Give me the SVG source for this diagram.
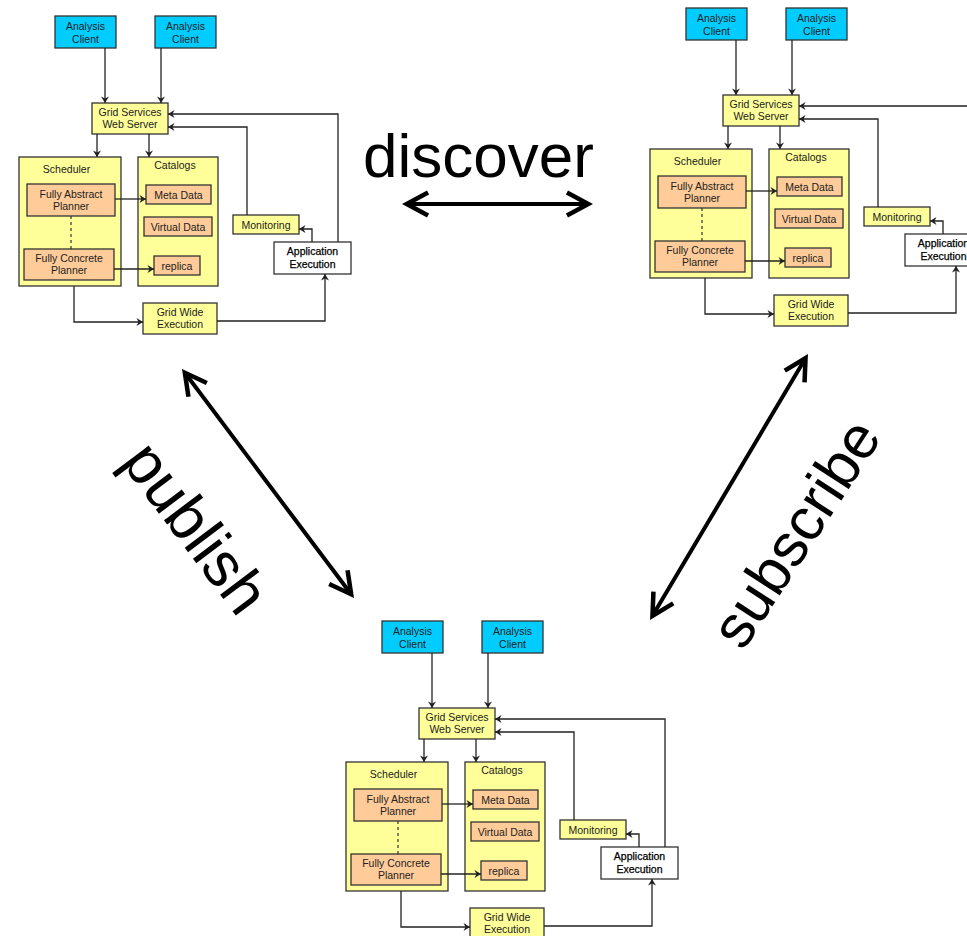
<svg xmlns="http://www.w3.org/2000/svg" width="967" height="936" viewBox="0 0 967 936">
<style>
  .client{fill:#00CCFF;stroke:#333;stroke-width:1.3}
  .yel{fill:#FFFF99;stroke:#333;stroke-width:1.3}
  .org{fill:#FFCC99;stroke:#333;stroke-width:1.3}
  .white{fill:#FFFFFF;stroke:#333;stroke-width:1.3}
  .t{font-family:"Liberation Sans",Arial,sans-serif;font-size:10.5px;fill:#222;text-anchor:middle}
  .dark{fill:#000;stroke:#000;stroke-width:0.25}
  .c{fill:none;stroke:#222;stroke-width:1.3;marker-end:url(#sa)}
  .dash{fill:none;stroke:#333;stroke-width:1.2;stroke-dasharray:3,3}
  .big{fill:none;stroke:#000;stroke-width:4;marker-start:url(#ba);marker-end:url(#ba)}
  .bt{font-family:"Liberation Sans",Arial,sans-serif;font-size:62px;fill:#000}
</style>
<defs>
  <marker id="sa" markerUnits="userSpaceOnUse" viewBox="-8 -5 9 10" refX="0" refY="0" markerWidth="9" markerHeight="10" orient="auto">
    <path d="M0,0 L-6.5,-4 L-4.5,0 L-6.5,4 Z" fill="#222"/>
  </marker>
  <marker id="ba" markerUnits="userSpaceOnUse" viewBox="-24 -16 32 32" refX="0" refY="0" markerWidth="32" markerHeight="32" orient="auto-start-reverse">
    <path d="M6,0 L-19,-13.5 L-21.1,-9.5 L-3.5,0 L-21.1,9.5 L-19,13.5 Z" fill="#000"/>
  </marker>
</defs>

<!-- Top-left cluster -->
<g id="cluster-tl">
  <g id="tl-client1"><rect class="client" x="55" y="16" width="61" height="32"/><text class="t" x="85.5" y="30">Analysis</text><text class="t" x="85.5" y="42.5">Client</text></g>
  <g id="tl-client2"><rect class="client" x="155" y="16" width="61" height="32"/><text class="t" x="185.5" y="30">Analysis</text><text class="t" x="185.5" y="42.5">Client</text></g>
  <g id="tl-gsw"><rect class="yel" x="92" y="103" width="76" height="31"/><text class="t" x="130" y="115.5">Grid Services</text><text class="t" x="130" y="128">Web Server</text></g>
  <g id="tl-scheduler"><rect class="yel" x="19" y="157" width="102" height="129"/><text class="t" x="66.5" y="173">Scheduler</text></g>
  <g id="tl-catalogs"><rect class="yel" x="138" y="157" width="80" height="129"/><text class="t" x="175" y="168.5">Catalogs</text></g>
  <g id="tl-fap"><rect class="org" x="27" y="184" width="88" height="32"/><text class="t" x="71" y="197.5">Fully Abstract</text><text class="t" x="71" y="210">Planner</text></g>
  <g id="tl-fcp"><rect class="org" x="24" y="249" width="90" height="31"/><text class="t" x="69" y="261.5">Fully Concrete</text><text class="t" x="69" y="274">Planner</text></g>
  <g id="tl-meta"><rect class="org" x="146" y="185" width="65" height="19"/><text class="t" x="178.5" y="198.5">Meta Data</text></g>
  <g id="tl-virtual"><rect class="org" x="144" y="217" width="68" height="19"/><text class="t" x="178" y="230.5">Virtual Data</text></g>
  <g id="tl-replica"><rect class="org" x="154" y="256" width="46" height="19"/><text class="t" x="177" y="269.5">replica</text></g>
  <g id="tl-monitoring"><rect class="yel" x="233" y="215" width="66" height="19"/><text class="t" x="266" y="228.5">Monitoring</text></g>
  <g id="tl-appexec"><rect class="white" x="274" y="242" width="77" height="32"/><text class="t dark" x="312.5" y="255">Application</text><text class="t dark" x="312.5" y="267.5">Execution</text></g>
  <g id="tl-gridwide"><rect class="yel" x="143" y="303" width="74" height="31"/><text class="t" x="180" y="315.5">Grid Wide</text><text class="t" x="180" y="328">Execution</text></g>
</g>

<!-- Top-right cluster -->
<g id="cluster-tr" transform="translate(631,-8)">
  <g id="tr-client1"><rect class="client" x="55" y="16" width="61" height="32"/><text class="t" x="85.5" y="30">Analysis</text><text class="t" x="85.5" y="42.5">Client</text></g>
  <g id="tr-client2"><rect class="client" x="155" y="16" width="61" height="32"/><text class="t" x="185.5" y="30">Analysis</text><text class="t" x="185.5" y="42.5">Client</text></g>
  <g id="tr-gsw"><rect class="yel" x="92" y="103" width="76" height="31"/><text class="t" x="130" y="115.5">Grid Services</text><text class="t" x="130" y="128">Web Server</text></g>
  <g id="tr-scheduler"><rect class="yel" x="19" y="157" width="102" height="129"/><text class="t" x="66.5" y="173">Scheduler</text></g>
  <g id="tr-catalogs"><rect class="yel" x="138" y="157" width="80" height="129"/><text class="t" x="175" y="168.5">Catalogs</text></g>
  <g id="tr-fap"><rect class="org" x="27" y="184" width="88" height="32"/><text class="t" x="71" y="197.5">Fully Abstract</text><text class="t" x="71" y="210">Planner</text></g>
  <g id="tr-fcp"><rect class="org" x="24" y="249" width="90" height="31"/><text class="t" x="69" y="261.5">Fully Concrete</text><text class="t" x="69" y="274">Planner</text></g>
  <g id="tr-meta"><rect class="org" x="146" y="185" width="65" height="19"/><text class="t" x="178.5" y="198.5">Meta Data</text></g>
  <g id="tr-virtual"><rect class="org" x="144" y="217" width="68" height="19"/><text class="t" x="178" y="230.5">Virtual Data</text></g>
  <g id="tr-replica"><rect class="org" x="154" y="256" width="46" height="19"/><text class="t" x="177" y="269.5">replica</text></g>
  <g id="tr-monitoring"><rect class="yel" x="233" y="215" width="66" height="19"/><text class="t" x="266" y="228.5">Monitoring</text></g>
  <g id="tr-appexec"><rect class="white" x="274" y="242" width="77" height="32"/><text class="t dark" x="312.5" y="255">Application</text><text class="t dark" x="312.5" y="267.5">Execution</text></g>
  <g id="tr-gridwide"><rect class="yel" x="143" y="303" width="74" height="31"/><text class="t" x="180" y="315.5">Grid Wide</text><text class="t" x="180" y="328">Execution</text></g>
</g>

<!-- Bottom cluster -->
<g id="cluster-bottom" transform="translate(327,605)">
  <g id="bt-client1"><rect class="client" x="55" y="16" width="61" height="32"/><text class="t" x="85.5" y="30">Analysis</text><text class="t" x="85.5" y="42.5">Client</text></g>
  <g id="bt-client2"><rect class="client" x="155" y="16" width="61" height="32"/><text class="t" x="185.5" y="30">Analysis</text><text class="t" x="185.5" y="42.5">Client</text></g>
  <g id="bt-gsw"><rect class="yel" x="92" y="103" width="76" height="31"/><text class="t" x="130" y="115.5">Grid Services</text><text class="t" x="130" y="128">Web Server</text></g>
  <g id="bt-scheduler"><rect class="yel" x="19" y="157" width="102" height="129"/><text class="t" x="66.5" y="173">Scheduler</text></g>
  <g id="bt-catalogs"><rect class="yel" x="138" y="157" width="80" height="129"/><text class="t" x="175" y="168.5">Catalogs</text></g>
  <g id="bt-fap"><rect class="org" x="27" y="184" width="88" height="32"/><text class="t" x="71" y="197.5">Fully Abstract</text><text class="t" x="71" y="210">Planner</text></g>
  <g id="bt-fcp"><rect class="org" x="24" y="249" width="90" height="31"/><text class="t" x="69" y="261.5">Fully Concrete</text><text class="t" x="69" y="274">Planner</text></g>
  <g id="bt-meta"><rect class="org" x="146" y="185" width="65" height="19"/><text class="t" x="178.5" y="198.5">Meta Data</text></g>
  <g id="bt-virtual"><rect class="org" x="144" y="217" width="68" height="19"/><text class="t" x="178" y="230.5">Virtual Data</text></g>
  <g id="bt-replica"><rect class="org" x="154" y="256" width="46" height="19"/><text class="t" x="177" y="269.5">replica</text></g>
  <g id="bt-monitoring"><rect class="yel" x="233" y="215" width="66" height="19"/><text class="t" x="266" y="228.5">Monitoring</text></g>
  <g id="bt-appexec"><rect class="white" x="274" y="242" width="77" height="32"/><text class="t dark" x="312.5" y="255">Application</text><text class="t dark" x="312.5" y="267.5">Execution</text></g>
  <g id="bt-gridwide"><rect class="yel" x="143" y="303" width="74" height="31"/><text class="t" x="180" y="315.5">Grid Wide</text><text class="t" x="180" y="328">Execution</text></g>
</g>

<!-- Connectors -->
<g id="connectors">
  <g id="tl-connectors">
    <path class="c" d="M105,48 V103"/>
    <path class="c" d="M161,48 V103"/>
    <path class="c" d="M97,134 V157"/>
    <path class="c" d="M149,134 V157"/>
    <path class="c" d="M115,199 H146"/>
    <path class="c" d="M114,269 H154"/>
    <path class="c" d="M74,286 V322 H143"/>
    <path class="c" d="M217,321 H325 V274"/>
    <path class="c" d="M247,215 V127 H168"/>
    <path class="c" d="M312,242 V229 H299"/>
    <path class="c" d="M338,242 V114 H168"/>
    <path class="dash" d="M71,216 V249"/>
  </g>
  <g id="tr-connectors" transform="translate(631,-8)">
    <path class="c" d="M105,48 V103"/>
    <path class="c" d="M161,48 V103"/>
    <path class="c" d="M97,134 V157"/>
    <path class="c" d="M149,134 V157"/>
    <path class="c" d="M115,199 H146"/>
    <path class="c" d="M114,269 H154"/>
    <path class="c" d="M74,286 V322 H143"/>
    <path class="c" d="M217,321 H325 V274"/>
    <path class="c" d="M247,215 V127 H168"/>
    <path class="c" d="M312,242 V229 H299"/>
    <path class="c" d="M338,242 V114 H168"/>
    <path class="dash" d="M71,216 V249"/>
  </g>
  <g id="bt-connectors" transform="translate(327,605)">
    <path class="c" d="M105,48 V103"/>
    <path class="c" d="M161,48 V103"/>
    <path class="c" d="M97,134 V157"/>
    <path class="c" d="M149,134 V157"/>
    <path class="c" d="M115,199 H146"/>
    <path class="c" d="M114,269 H154"/>
    <path class="c" d="M74,286 V322 H143"/>
    <path class="c" d="M217,321 H325 V274"/>
    <path class="c" d="M247,215 V127 H168"/>
    <path class="c" d="M312,242 V229 H299"/>
    <path class="c" d="M338,242 V114 H168"/>
    <path class="dash" d="M71,216 V249"/>
  </g>
  <g id="big-arrows">
    <path id="discover-arrow" class="big" d="M408,204 L587,204"/>
    <path id="publish-arrow" class="big" d="M185.6,373.8 L350.4,593.2"/>
    <path id="subscribe-arrow" class="big" d="M804.9,359.2 L653.1,614.8"/>
  </g>
</g>

<g id="labels">
  <text class="bt" x="363" y="177">discover</text>
  <text class="bt" x="120" y="462" transform="rotate(53 120 462)">publish</text>
  <text class="bt" x="743" y="652" style="font-size:60px" transform="rotate(-57 743 652)">subscribe</text>
</g>
</svg>
